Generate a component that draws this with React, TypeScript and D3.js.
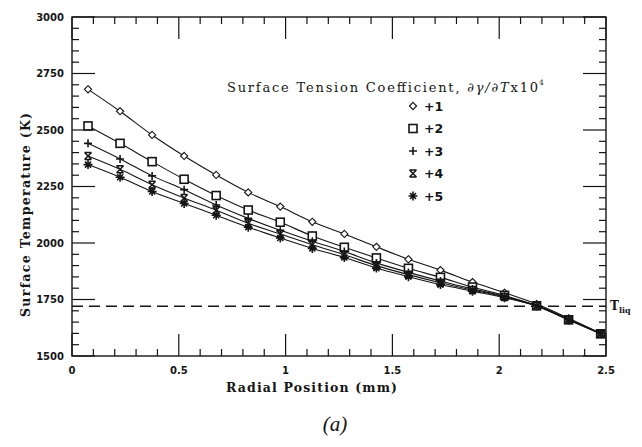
import React from "react";
import * as d3 from "d3";

// radial positions of the computed points (mm)
const radial = [0.075, 0.225, 0.375, 0.525, 0.675, 0.825, 0.975, 1.125, 1.275, 1.425, 1.575, 1.725, 1.875, 2.025, 2.175, 2.325, 2.475];

// surface temperature (K) per surface tension coefficient
const coef1 = [2680, 2583, 2478, 2385, 2301, 2224, 2161, 2094, 2040, 1983, 1928, 1880, 1827, 1780, 1730, 1667, 1600];
const coef2 = [2518, 2441, 2360, 2282, 2210, 2146, 2092, 2031, 1981, 1934, 1888, 1848, 1805, 1768, 1722, 1660, 1598];
const coef3 = [2441, 2372, 2297, 2236, 2168, 2109, 2056, 2008, 1962, 1912, 1870, 1832, 1797, 1764, 1724, 1663, 1601];
const coef4 = [2385, 2326, 2258, 2199, 2145, 2087, 2040, 1992, 1948, 1900, 1860, 1824, 1792, 1761, 1722, 1661, 1600];
const coef5 = [2347, 2291, 2228, 2175, 2123, 2070, 2022, 1976, 1936, 1889, 1851, 1816, 1787, 1758, 1721, 1659, 1599];

const seriesLabels = ["+1", "+2", "+3", "+4", "+5"];
const seriesValues = [coef1, coef2, coef3, coef4, coef5];
const markerKinds = ["diamond", "square", "plus", "hourglass", "asterisk"];

const xTickLabels = [0, 0.5, 1, 1.5, 2, 2.5];
const yTickLabels = [1500, 1750, 2000, 2250, 2500, 2750, 3000];
const tLiq = 1720;

const INK = "#151515";

const Marker = ({ kind, x, y }: { kind: string; x: number; y: number }) => {
  if (kind === "diamond")
    return <path d={`M${x},${y - 3.6}L${x + 3.6},${y}L${x},${y + 3.6}L${x - 3.6},${y}Z`} fill="white" stroke={INK} strokeWidth={1.1} />;
  if (kind === "square")
    return <rect x={x - 4} y={y - 4} width={8} height={8} fill="white" stroke={INK} strokeWidth={1.6} />;
  if (kind === "plus")
    return <path d={`M${x - 4},${y}H${x + 4}M${x},${y - 4}V${y + 4}`} stroke={INK} strokeWidth={1.6} />;
  if (kind === "hourglass")
    return (
      <path
        d={`M${x - 3.5},${y - 3.5}L${x + 3.5},${y + 3.5}M${x + 3.5},${y - 3.5}L${x - 3.5},${y + 3.5}M${x - 3.5},${y - 3.5}H${x + 3.5}M${x - 3.5},${y + 3.5}H${x + 3.5}`}
        stroke={INK}
        strokeWidth={1.5}
      />
    );
  return (
    <path
      d={`M${x - 4.5},${y}H${x + 4.5}M${x},${y - 4.5}V${y + 4.5}M${x - 3},${y - 3}L${x + 3},${y + 3}M${x + 3},${y - 3}L${x - 3},${y + 3}`}
      stroke={INK}
      strokeWidth={1.6}
    />
  );
};

export default function App() {
  const width = 642;
  const height = 447;
  const left = 72, right = 606, top = 17, bottom = 356;

  const x = d3.scaleLinear().domain([0, 2.5]).range([left, right]);
  const y = d3.scaleLinear().domain([1500, 3000]).range([bottom, top]);

  const xMinor = d3.range(0, 2.5001, 0.1);
  const yMinor = d3.range(1500, 3000.1, 50);
  const isMajorX = (v: number) => Math.abs(v * 2 - Math.round(v * 2)) < 1e-6;
  const isMajorY = (v: number) => v % 250 === 0;

  const line = d3
    .line<number>()
    .x((_, i) => x(radial[i]))
    .y((d) => y(d))
    .curve(d3.curveMonotoneX);

  const serif = "'DejaVu Serif', serif";
  const sans = "'DejaVu Sans', sans-serif";

  return (
    <svg width={width} height={height} style={{ position: "absolute", left: 0, top: 0, background: "white" }}>
      {/* frame */}
      <rect x={left} y={top} width={right - left} height={bottom - top} fill="none" stroke={INK} strokeWidth={1.4} />

      {/* x ticks, bottom and top */}
      {xMinor.map((v, i) => {
        const len = isMajorX(v) ? 22 : 7;
        return (
          <g key={"xt" + i}>
            <line x1={x(v)} x2={x(v)} y1={bottom} y2={bottom - len} stroke={INK} strokeWidth={1.2} />
            <line x1={x(v)} x2={x(v)} y1={top} y2={top + len} stroke={INK} strokeWidth={1.2} />
          </g>
        );
      })}
      {/* y ticks, left and right */}
      {yMinor.map((v, i) => {
        const len = isMajorY(v) ? 23 : 7;
        return (
          <g key={"yt" + i}>
            <line x1={left} x2={left + len} y1={y(v)} y2={y(v)} stroke={INK} strokeWidth={1.2} />
            <line x1={right} x2={right - len} y1={y(v)} y2={y(v)} stroke={INK} strokeWidth={1.2} />
          </g>
        );
      })}

      {xTickLabels.map((v) => (
        <text key={"xl" + v} x={x(v)} y={374} textAnchor="middle" fontFamily={sans} fontWeight="bold" fontSize={10} fill={INK}>
          {v}
        </text>
      ))}
      {yTickLabels.map((v) => (
        <text key={"yl" + v} x={64} y={y(v)} dy="0.35em" textAnchor="end" fontFamily={sans} fontWeight="bold" fontSize={10} fill={INK}>
          {v}
        </text>
      ))}

      {/* liquidus temperature */}
      <line x1={left} x2={right} y1={y(tLiq)} y2={y(tLiq)} stroke={INK} strokeWidth={1.4} strokeDasharray="11 6" />
      <text x={610} y={y(tLiq) + 4} fontFamily={serif} fontWeight="bold" fontSize={12} fill={INK}>
        T
        <tspan fontSize={8} dy={3}>liq</tspan>
      </text>

      {/* series */}
      {seriesValues.map((vals, s) => (
        <g key={"s" + s}>
          <path d={line(vals) || ""} fill="none" stroke={INK} strokeWidth={1.1} />
          {vals.map((v, i) => (
            <Marker key={i} kind={markerKinds[s]} x={x(radial[i])} y={y(v)} />
          ))}
        </g>
      ))}

      {/* legend */}
      <text x={227} y={92} textLength={311} lengthAdjust="spacing" fontFamily={serif} fontSize={13} fill={INK}>
        Surface Tension Coefficient,{" "}
        <tspan fontStyle="italic">∂γ/∂T</tspan>x10
      </text>
      <text x={539} y={85} fontFamily={serif} fontSize={7.5} fill={INK}>4</text>
      {seriesLabels.map((lab, s) => {
        const cy = 106 + s * 22.5;
        return (
          <g key={"lg" + s}>
            <Marker kind={markerKinds[s]} x={413} y={cy} />
            <text x={424} y={cy} dy="0.36em" fontFamily={sans} fontWeight="bold" fontSize={12.5} fill={INK}>
              {lab}
            </text>
          </g>
        );
      })}

      {/* axis titles */}
      <text x={311.5} y={392} textAnchor="middle" textLength={171} lengthAdjust="spacing" fontFamily={serif} fontWeight="bold" fontSize={12.5} fill={INK}>
        Radial Position (mm)
      </text>
      <text
        transform={`translate(30,215) rotate(-90)`}
        textAnchor="middle"
        textLength={204}
        lengthAdjust="spacing"
        fontFamily={serif}
        fontWeight="bold"
        fontSize={12.5}
        fill={INK}
      >
        Surface Temperature (K)
      </text>

      <text x={335} y={431} textAnchor="middle" fontFamily="'Liberation Serif', serif" fontStyle="italic" fontSize={21} fill={INK}>
        (a)
      </text>
    </svg>
  );
}
